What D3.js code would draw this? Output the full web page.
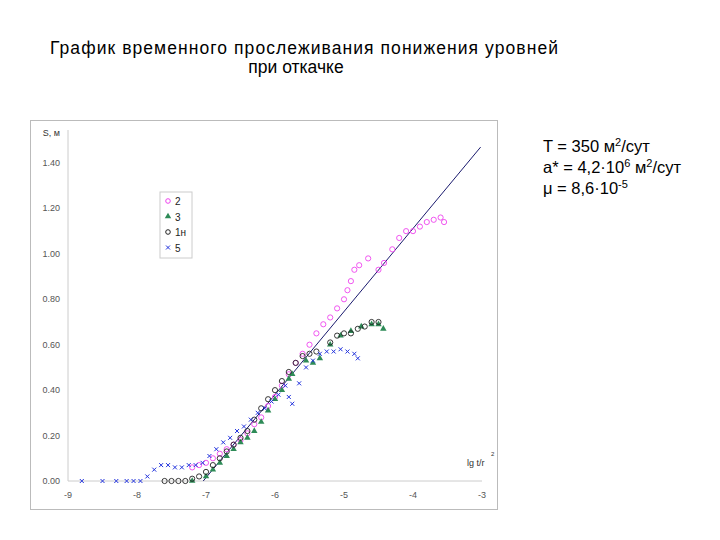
<!DOCTYPE html><html><head><meta charset="utf-8"><script src="https://cdn.jsdelivr.net/npm/d3@7"></script>
<style>body{margin:0;background:#fff}text{font-family:"Liberation Sans",Arial,sans-serif}</style></head><body><svg id="c" width="720" height="540"></svg>
<script>
const xTicks=[-9,-8,-7,-6,-5,-4,-3];
const yTicks=[0,0.2,0.4,0.6,0.8,1.0,1.2,1.4];
const s2=[[-7.2,0.06],[-7.1,0.07],[-7.0,0.08],[-6.9,0.1],[-6.8,0.12],[-6.7,0.14],[-6.6,0.16],[-6.5,0.18],[-6.4,0.21],[-6.3,0.25],[-6.2,0.28],[-6.1,0.33],[-6.0,0.37],[-5.9,0.42],[-5.8,0.47],[-5.7,0.52],[-5.6,0.56],[-5.5,0.6],[-5.4,0.65],[-5.3,0.69],[-5.2,0.72],[-5.1,0.76],[-5.0,0.8],[-4.95,0.84],[-4.9,0.88],[-4.85,0.93],[-4.78,0.95],[-4.65,0.98],[-4.5,0.93],[-4.42,0.96],[-4.3,1.02],[-4.2,1.07],[-4.1,1.1],[-4.0,1.1],[-3.9,1.12],[-3.8,1.14],[-3.7,1.15],[-3.6,1.16],[-3.55,1.14]];
const s3=[[-7.2,0.0],[-7.0,0.02],[-6.9,0.05],[-6.8,0.08],[-6.7,0.11],[-6.6,0.14],[-6.5,0.17],[-6.4,0.19],[-6.3,0.22],[-6.2,0.26],[-6.1,0.31],[-6.0,0.36],[-5.9,0.4],[-5.8,0.45],[-5.75,0.47],[-5.55,0.53],[-5.45,0.52],[-5.35,0.54],[-5.2,0.6],[-5.05,0.64],[-4.9,0.66],[-4.75,0.68],[-4.6,0.69],[-4.5,0.69],[-4.43,0.67]];
const s1=[[-7.6,0.0],[-7.5,0.0],[-7.4,0.0],[-7.3,0.0],[-7.2,0.01],[-7.1,0.02],[-7.0,0.04],[-6.9,0.07],[-6.8,0.1],[-6.7,0.13],[-6.6,0.16],[-6.5,0.19],[-6.4,0.22],[-6.3,0.27],[-6.2,0.32],[-6.1,0.36],[-6.0,0.4],[-5.9,0.44],[-5.8,0.48],[-5.7,0.52],[-5.6,0.55],[-5.5,0.56],[-5.4,0.57],[-5.2,0.61],[-5.1,0.64],[-5.0,0.65],[-4.9,0.65],[-4.8,0.67],[-4.7,0.68],[-4.6,0.7],[-4.5,0.7]];
const s5=[[-8.8,0],[-8.5,0],[-8.3,0],[-8.15,0],[-8.05,0],[-7.95,0],[-7.85,0.02],[-7.75,0.05],[-7.65,0.07],[-7.55,0.07],[-7.45,0.06],[-7.35,0.06],[-7.25,0.07],[-7.15,0.07],[-7.05,0.08],[-6.95,0.11],[-6.85,0.14],[-6.75,0.17],[-6.65,0.19],[-6.55,0.22],[-6.45,0.24],[-6.35,0.27],[-6.25,0.3],[-6.15,0.32],[-6.05,0.35],[-5.95,0.38],[-5.85,0.42],[-5.8,0.37],[-5.75,0.34],[-5.65,0.43],[-5.55,0.5],[-5.45,0.53],[-5.35,0.56],[-5.25,0.57],[-5.15,0.57],[-5.05,0.58],[-4.95,0.57],[-4.85,0.56],[-4.8,0.54]];
const theory=[[-7.04,0],[-3.02,1.47]];
const svg=d3.select("#c");
svg.append("rect").attr("x",30.5).attr("y",120.5).attr("width",467).attr("height",389).attr("fill","none").attr("stroke","#bbb");
const x=d3.scaleLinear().domain([-9,-3]).range([68,482]);
const y=d3.scaleLinear().domain([0,1.4]).range([481,163]);
const g=svg.append("g");
g.append("line").attr("x1",x(-9)).attr("x2",x(-3)).attr("y1",y(0)).attr("y2",y(0)).attr("stroke","#ccc");
g.append("line").attr("x1",x(-9)).attr("x2",x(-9)).attr("y1",y(0)).attr("y2",130).attr("stroke","#ccc");
xTicks.forEach(t=>{g.append("text").attr("x",x(t)).attr("y",498).attr("text-anchor","middle").attr("font-size",9).attr("fill","#555").text(t);});
yTicks.forEach(t=>{g.append("text").attr("x",60).attr("y",y(t)+3).attr("text-anchor","end").attr("font-size",9).attr("fill","#555").text(t.toFixed(2));});
g.append("text").attr("x",60).attr("y",136).attr("font-size",9).attr("text-anchor","end").attr("fill","#333").text("S, м");
g.append("text").attr("x",467).attr("y",466).attr("font-size",9).attr("fill","#333").text("lg t/r");
g.append("text").attr("x",491).attr("y",456).attr("font-size",6).attr("fill","#333").text("2");
const line=d3.line().x(d=>x(d[0])).y(d=>y(d[1]));
g.append("path").attr("d",line(theory)).attr("stroke","#1a1a6e").attr("fill","none").attr("stroke-width",1);
const circ=(data,col)=>g.selectAll(null).data(data).enter().append("circle").attr("cx",d=>x(d[0])).attr("cy",d=>y(d[1])).attr("r",2.6).attr("fill","none").attr("stroke",col).attr("stroke-width",0.9);
circ(s2,"#ee44ee");
const tri=d3.symbol().type(d3.symbolTriangle).size(18);
g.selectAll(null).data(s3).enter().append("path").attr("d",tri).attr("transform",d=>`translate(${x(d[0])},${y(d[1])})`).attr("fill","#2e8b57");
circ(s1,"#222");
s5.forEach(d=>{const cx=x(d[0]),cy=y(d[1]);g.append("path").attr("d",`M${cx-2},${cy-2}L${cx+2},${cy+2}M${cx-2},${cy+2}L${cx+2},${cy-2}`).attr("stroke","#2233dd").attr("stroke-width",1);});
const lg=svg.append("g").attr("transform","translate(160,192)");
lg.append("rect").attr("width",32).attr("height",66).attr("fill","#fff").attr("stroke","#ccc");
const items=[["2","c","#ee44ee"],["3","t","#2e8b57"],["1н","c","#222"],["5","x","#2233dd"]];
items.forEach((it,i)=>{const yy=9+i*15.5;
 if(it[1]=="c")lg.append("circle").attr("cx",8).attr("cy",yy).attr("r",2.3).attr("fill","none").attr("stroke",it[2]);
 else if(it[1]=="t")lg.append("path").attr("d",tri).attr("transform",`translate(8,${yy})`).attr("fill",it[2]);
 else lg.append("path").attr("d",`M6,${yy-2}L10,${yy+2}M6,${yy+2}L10,${yy-2}`).attr("stroke",it[2]);
 lg.append("text").attr("x",15).attr("y",yy+4).attr("font-size",10).attr("fill","#222").text(it[0]);});
const tt=svg.append("g").attr("font-size",17.5).attr("fill","#000").attr("text-anchor","middle");
tt.append("text").attr("x",304).attr("y",54).attr("textLength",508).text("График временного прослеживания понижения уровней");
tt.append("text").attr("x",296).attr("y",73).text("при откачке");
const inf=svg.append("g").attr("font-size",16.5).attr("fill","#000");
const t1=inf.append("text").attr("x",543).attr("y",152);t1.append("tspan").text("T = 350 м");t1.append("tspan").attr("dy",-6).attr("font-size",11).text("2");t1.append("tspan").attr("dy",6).text("/сут");
const t2=inf.append("text").attr("x",543).attr("y",173);t2.append("tspan").text("a* = 4,2·10");t2.append("tspan").attr("dy",-6).attr("font-size",11).text("6");t2.append("tspan").attr("dy",6).text(" м");t2.append("tspan").attr("dy",-6).attr("font-size",11).text("2");t2.append("tspan").attr("dy",6).text("/сут");
const t3=inf.append("text").attr("x",543).attr("y",194);t3.append("tspan").text("μ = 8,6·10");t3.append("tspan").attr("dy",-6).attr("font-size",11).text("-5");
</script></body></html>
